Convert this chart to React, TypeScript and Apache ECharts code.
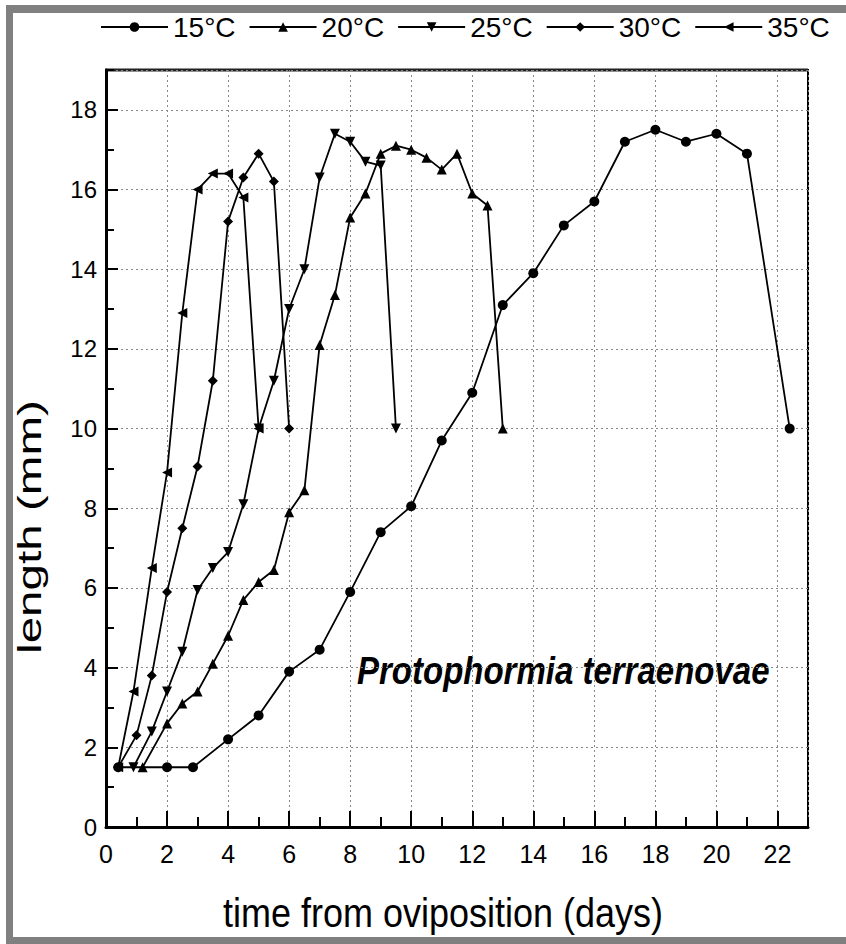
import React, { useEffect, useRef } from "react";
import * as echarts from "echarts";

const seriesNames = ["15°C", "20°C", "25°C", "30°C", "35°C"];

const days15 = [0.4, 2, 2.85, 4, 5, 6, 7, 8, 9, 10, 11, 12, 13, 14, 15, 16, 17, 18, 19, 20, 21, 22.4];
const len15 = [1.5, 1.5, 1.5, 2.2, 2.8, 3.9, 4.45, 5.9, 7.4, 8.05, 9.7, 10.9, 13.1, 13.9, 15.1, 15.7, 17.2, 17.5, 17.2, 17.4, 16.9, 10.0];

const days20 = [1.2, 2, 2.5, 3, 3.5, 4, 4.5, 5, 5.5, 6, 6.5, 7, 7.5, 8, 8.5, 9, 9.5, 10, 10.5, 11, 11.5, 12, 12.5, 13];
const len20 = [1.5, 2.6, 3.1, 3.4, 4.1, 4.8, 5.7, 6.15, 6.45, 7.9, 8.45, 12.1, 13.35, 15.3, 15.9, 16.9, 17.1, 17.0, 16.8, 16.5, 16.9, 15.9, 15.6, 10.0];

const days25 = [0.9, 1.5, 2, 2.5, 3, 3.5, 4, 4.5, 5, 5.5, 6, 6.5, 7, 7.5, 8, 8.5, 9, 9.5];
const len25 = [1.5, 2.4, 3.4, 4.4, 5.95, 6.5, 6.9, 8.1, 10.0, 11.2, 13.0, 14.0, 16.3, 17.4, 17.2, 16.7, 16.6, 10.0];

const days30 = [0.4, 1, 1.5, 2, 2.5, 3, 3.5, 4, 4.5, 5, 5.5, 6];
const len30 = [1.5, 2.3, 3.8, 5.9, 7.5, 9.05, 11.2, 15.2, 16.3, 16.9, 16.2, 10.0];

const days35 = [0.4, 0.9, 1.5, 2, 2.5, 3, 3.5, 4, 4.5, 5];
const len35 = [1.5, 3.4, 6.5, 8.9, 12.9, 16.0, 16.4, 16.4, 15.8, 10.0];

const xTickLabels = ["0", "2", "4", "6", "8", "10", "12", "14", "16", "18", "20", "22"];
const yTickLabels = ["0", "2", "4", "6", "8", "10", "12", "14", "16", "18"];

const xTitle = "time from oviposition (days)";
const yTitle = "length (mm)";
const speciesLabel = "Protophormia terraenovae";

const SANS = "'Liberation Sans', Arial, sans-serif";

const pairs = (xs: number[], ys: number[]) => xs.map((x, i) => [x, ys[i]]);

const seriesData = [
  { name: seriesNames[0], data: pairs(days15, len15), symbol: "circle", rotate: 0 },
  { name: seriesNames[1], data: pairs(days20, len20), symbol: "triangle", rotate: 0 },
  { name: seriesNames[2], data: pairs(days25, len25), symbol: "triangle", rotate: 180 },
  { name: seriesNames[3], data: pairs(days30, len30), symbol: "diamond", rotate: 0 },
  { name: seriesNames[4], data: pairs(days35, len35), symbol: "triangle", rotate: 90 },
];

export default function App() {
  const ref = useRef<HTMLDivElement>(null);
  useEffect(() => {
    if (!ref.current) return;
    const chart = echarts.init(ref.current, undefined, { renderer: "svg" });
    const option: any = {
      animation: false,
      backgroundColor: "#fff",
      legend: {
        left: 100,
        top: 13,
        padding: 0,
        width: 760,
        itemWidth: 67,
        itemHeight: 12,
        itemGap: 13,
        data: seriesNames,
        textStyle: { fontSize: 28, fontFamily: SANS, color: "#000" },
      },
      grid: {
        left: 106,
        top: 70,
        right: 38,
        bottom: 117,
        show: true,
        borderColor: "#000",
        borderWidth: 2,
        backgroundColor: "transparent",
      },
      xAxis: [
        {
          type: "value",
          min: 0,
          max: 23,
          interval: 1,
          position: "bottom",
          axisLine: { show: true, onZero: false, lineStyle: { color: "#000", width: 3 } },
          axisTick: { show: true, inside: true, length: 10, lineStyle: { color: "#000", width: 2 } },
          axisLabel: { show: false },
          splitLine: { show: false },
        },
        {
          type: "value",
          min: 0,
          max: 23,
          interval: 2,
          position: "bottom",
          axisLine: { show: false },
          axisTick: { show: true, inside: true, length: 16, lineStyle: { color: "#000", width: 2 } },
          axisLabel: {
            show: true,
            showMaxLabel: false,
            margin: 14,
            fontSize: 25,
            fontFamily: SANS,
            color: "#000",
            formatter: (v: number) => (xTickLabels.includes(String(v)) ? String(v) : ""),
          },
          splitLine: { show: true, lineStyle: { color: "#888", type: [2, 3], width: 1 } },
        },
      ],
      yAxis: [
        {
          type: "value",
          min: 0,
          max: 19,
          interval: 1,
          position: "left",
          axisLine: { show: true, onZero: false, lineStyle: { color: "#000", width: 3 } },
          axisTick: { show: true, inside: true, length: 8, lineStyle: { color: "#000", width: 2 } },
          axisLabel: { show: false },
          splitLine: { show: false },
        },
        {
          type: "value",
          min: 0,
          max: 19,
          interval: 2,
          position: "left",
          axisLine: { show: false },
          axisTick: { show: true, inside: true, length: 12, lineStyle: { color: "#000", width: 2 } },
          axisLabel: {
            show: true,
            showMaxLabel: false,
            margin: 9,
            fontSize: 24,
            fontFamily: SANS,
            color: "#000",
            formatter: (v: number) => (yTickLabels.includes(String(v)) ? String(v) : ""),
          },
          splitLine: { show: true, lineStyle: { color: "#888", type: [2, 3], width: 1 } },
        },
      ],
      graphic: [
        { type: "rect", shape: { x: 6, y: 5, width: 7, height: 939 }, style: { fill: "#808080" }, silent: true },
        { type: "rect", shape: { x: 6, y: 5, width: 840, height: 8 }, style: { fill: "#808080" }, silent: true },
        { type: "rect", shape: { x: 6, y: 937, width: 840, height: 7 }, style: { fill: "#808080" }, silent: true },
        { type: "line", shape: { x1: 105, y1: 70, x2: 808, y2: 70 }, style: { stroke: "#222", lineWidth: 3 }, silent: true },
        {
          type: "text",
          x: 29,
          y: 527,
          rotation: Math.PI / 2,
          scaleX: 1.4,
          style: {
            text: yTitle,
            fontSize: 34,
            fontFamily: SANS,
            fill: "#000",
            align: "center",
            verticalAlign: "middle",
          },
        },
        {
          type: "text",
          x: 443,
          y: 913,
          scaleY: 1.15,
          style: {
            text: xTitle,
            fontSize: 36,
            fontFamily: SANS,
            fill: "#000",
            align: "center",
            verticalAlign: "middle",
          },
        },
        {
          type: "text",
          x: 357,
          y: 670,
          scaleY: 1.2,
          style: {
            text: speciesLabel,
            fontSize: 33,
            fontStyle: "italic",
            fontWeight: "bold",
            fontFamily: SANS,
            fill: "#000",
            align: "left",
            verticalAlign: "middle",
          },
        },
      ],
      series: seriesData.map((s) => ({
        type: "line",
        name: s.name,
        xAxisIndex: 0,
        yAxisIndex: 0,
        data: s.data,
        symbol: s.symbol,
        symbolRotate: s.rotate,
        symbolSize: 10,
        showAllSymbol: true,
        lineStyle: { color: "#000", width: 1.8 },
        itemStyle: { color: "#000" },
        emphasis: { disabled: true },
      })),
    };
    chart.setOption(option);
    return () => chart.dispose();
  }, []);
  return (
    <div
      ref={ref}
      style={{ position: "absolute", left: 0, top: 0, width: 846, height: 944, background: "#fff" }}
    />
  );
}
